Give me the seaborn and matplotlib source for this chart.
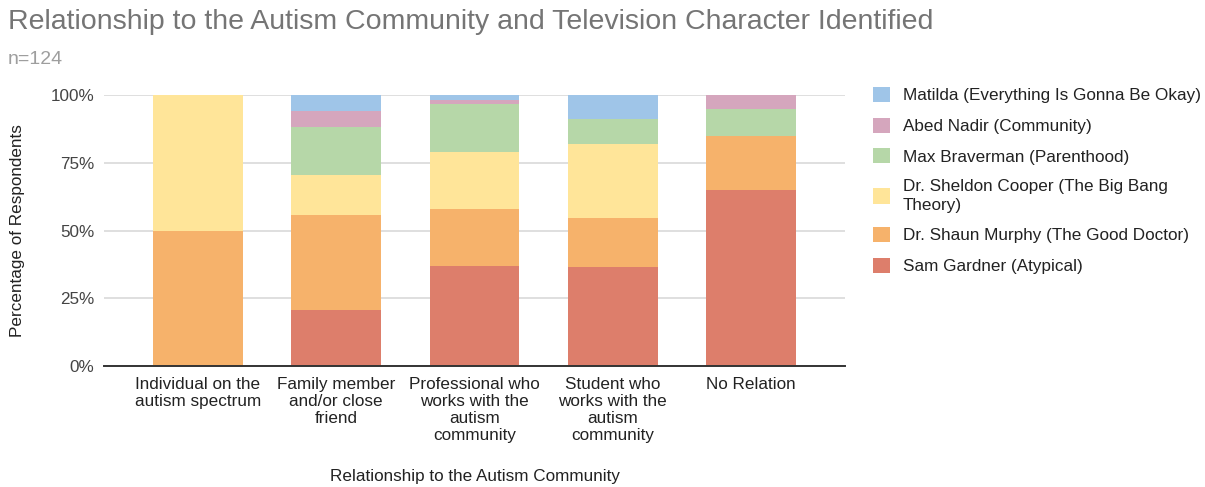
import matplotlib
matplotlib.use("Agg")
import matplotlib.pyplot as plt
import seaborn as sns
import numpy as np
from matplotlib.patches import Patch
from matplotlib.ticker import PercentFormatter

categories = [
    "Individual on the\nautism spectrum",
    "Family member\nand/or close\nfriend",
    "Professional who\nworks with the\nautism\ncommunity",
    "Student who\nworks with the\nautism\ncommunity",
    "No Relation",
]
series_names = [
    "Sam Gardner (Atypical)",
    "Dr. Shaun Murphy (The Good Doctor)",
    "Dr. Sheldon Cooper (The Big Bang\nTheory)",
    "Max Braverman (Parenthood)",
    "Abed Nadir (Community)",
    "Matilda (Everything Is Gonna Be Okay)",
]
sam = [0, 20.6, 36.8, 36.4, 65]
shaun = [50, 35.3, 21.1, 18.2, 20]
sheldon = [50, 14.7, 21.1, 27.3, 0]
max_b = [0, 17.6, 17.5, 9.1, 10]
abed = [0, 5.9, 1.8, 0, 5]
matilda = [0, 5.9, 1.8, 9.1, 0]
colors = ["#DD7E6B", "#F6B26B", "#FFE599", "#B6D7A8", "#D5A6BD", "#9FC5E8"]

sns.set_theme(style="white")
plt.rcParams["font.family"] = ["Liberation Sans", "DejaVu Sans"]

FS = 12.3
fig = plt.figure(figsize=(12.05, 4.87), dpi=100)
ax = fig.add_axes([104 / 1205, 1 - 366 / 487, (845 - 104) / 1205, (366 - 95) / 487])

series = [sam, shaun, sheldon, max_b, abed, matilda]
cum = np.cumsum(np.array(series, dtype=float), axis=0)
# draw from top layer down so lower layers overlay
for i in range(len(series) - 1, -1, -1):
    tops = cum[i] / 100.0
    sns.barplot(x=categories, y=tops, color=colors[i], saturation=1,
                width=0.65, ax=ax, linewidth=0, zorder=3)

ax.set_xlim(-0.68, 4.68)
ax.set_ylim(0, 1)
ax.set_yticks([0, 0.25, 0.5, 0.75, 1.0])
ax.yaxis.set_major_formatter(PercentFormatter(1.0, decimals=0))
ax.grid(axis="y", color="#d6d6d6", linewidth=1.1, zorder=0)
ax.set_axisbelow(True)
for s in ["top", "right", "left"]:
    ax.spines[s].set_visible(False)
ax.spines["bottom"].set_color("#333333")
ax.spines["bottom"].set_linewidth(1.4)
ax.spines["bottom"].set_zorder(5)
ax.tick_params(axis="both", length=0, labelsize=FS, colors="#444444")
ax.tick_params(axis="y", pad=7)
ax.tick_params(axis="x", pad=8)
for lbl in ax.get_xticklabels():
    lbl.set_linespacing(1.16)
    lbl.set_color("#222222")
ax.set_xlabel("Relationship to the Autism Community", fontsize=FS, color="#222222")
ax.set_ylabel("Percentage of Respondents", fontsize=FS, color="#222222")
ax.xaxis.set_label_coords(0.5, (366 - 469) / 271)
ax.yaxis.set_label_coords((25 - 104) / 741, 0.5)

fig.text(8 / 1205, 1 - 22 / 487, "Relationship to the Autism Community and Television Character Identified",
         fontsize=20.5, color="#757575", va="center", ha="left")
fig.text(8 / 1205, 1 - 59 / 487, "n=124", fontsize=14, color="#9e9e9e", va="center", ha="left")

handles = [Patch(facecolor=colors[i], edgecolor="none") for i in range(len(series) - 1, -1, -1)]
labels = [series_names[i] for i in range(len(series) - 1, -1, -1)]
leg = fig.legend(handles, labels, loc="upper left", bbox_to_anchor=(866 / 1205, 1 - 80 / 487),
                 frameon=False, fontsize=FS, handlelength=1.0, handleheight=1.0,
                 handletextpad=0.75, labelspacing=0.83, borderaxespad=0)
for t in leg.get_texts():
    t.set_color("#222222")
    t.set_linespacing(1.32)

fig.savefig("out.png", dpi=100)
